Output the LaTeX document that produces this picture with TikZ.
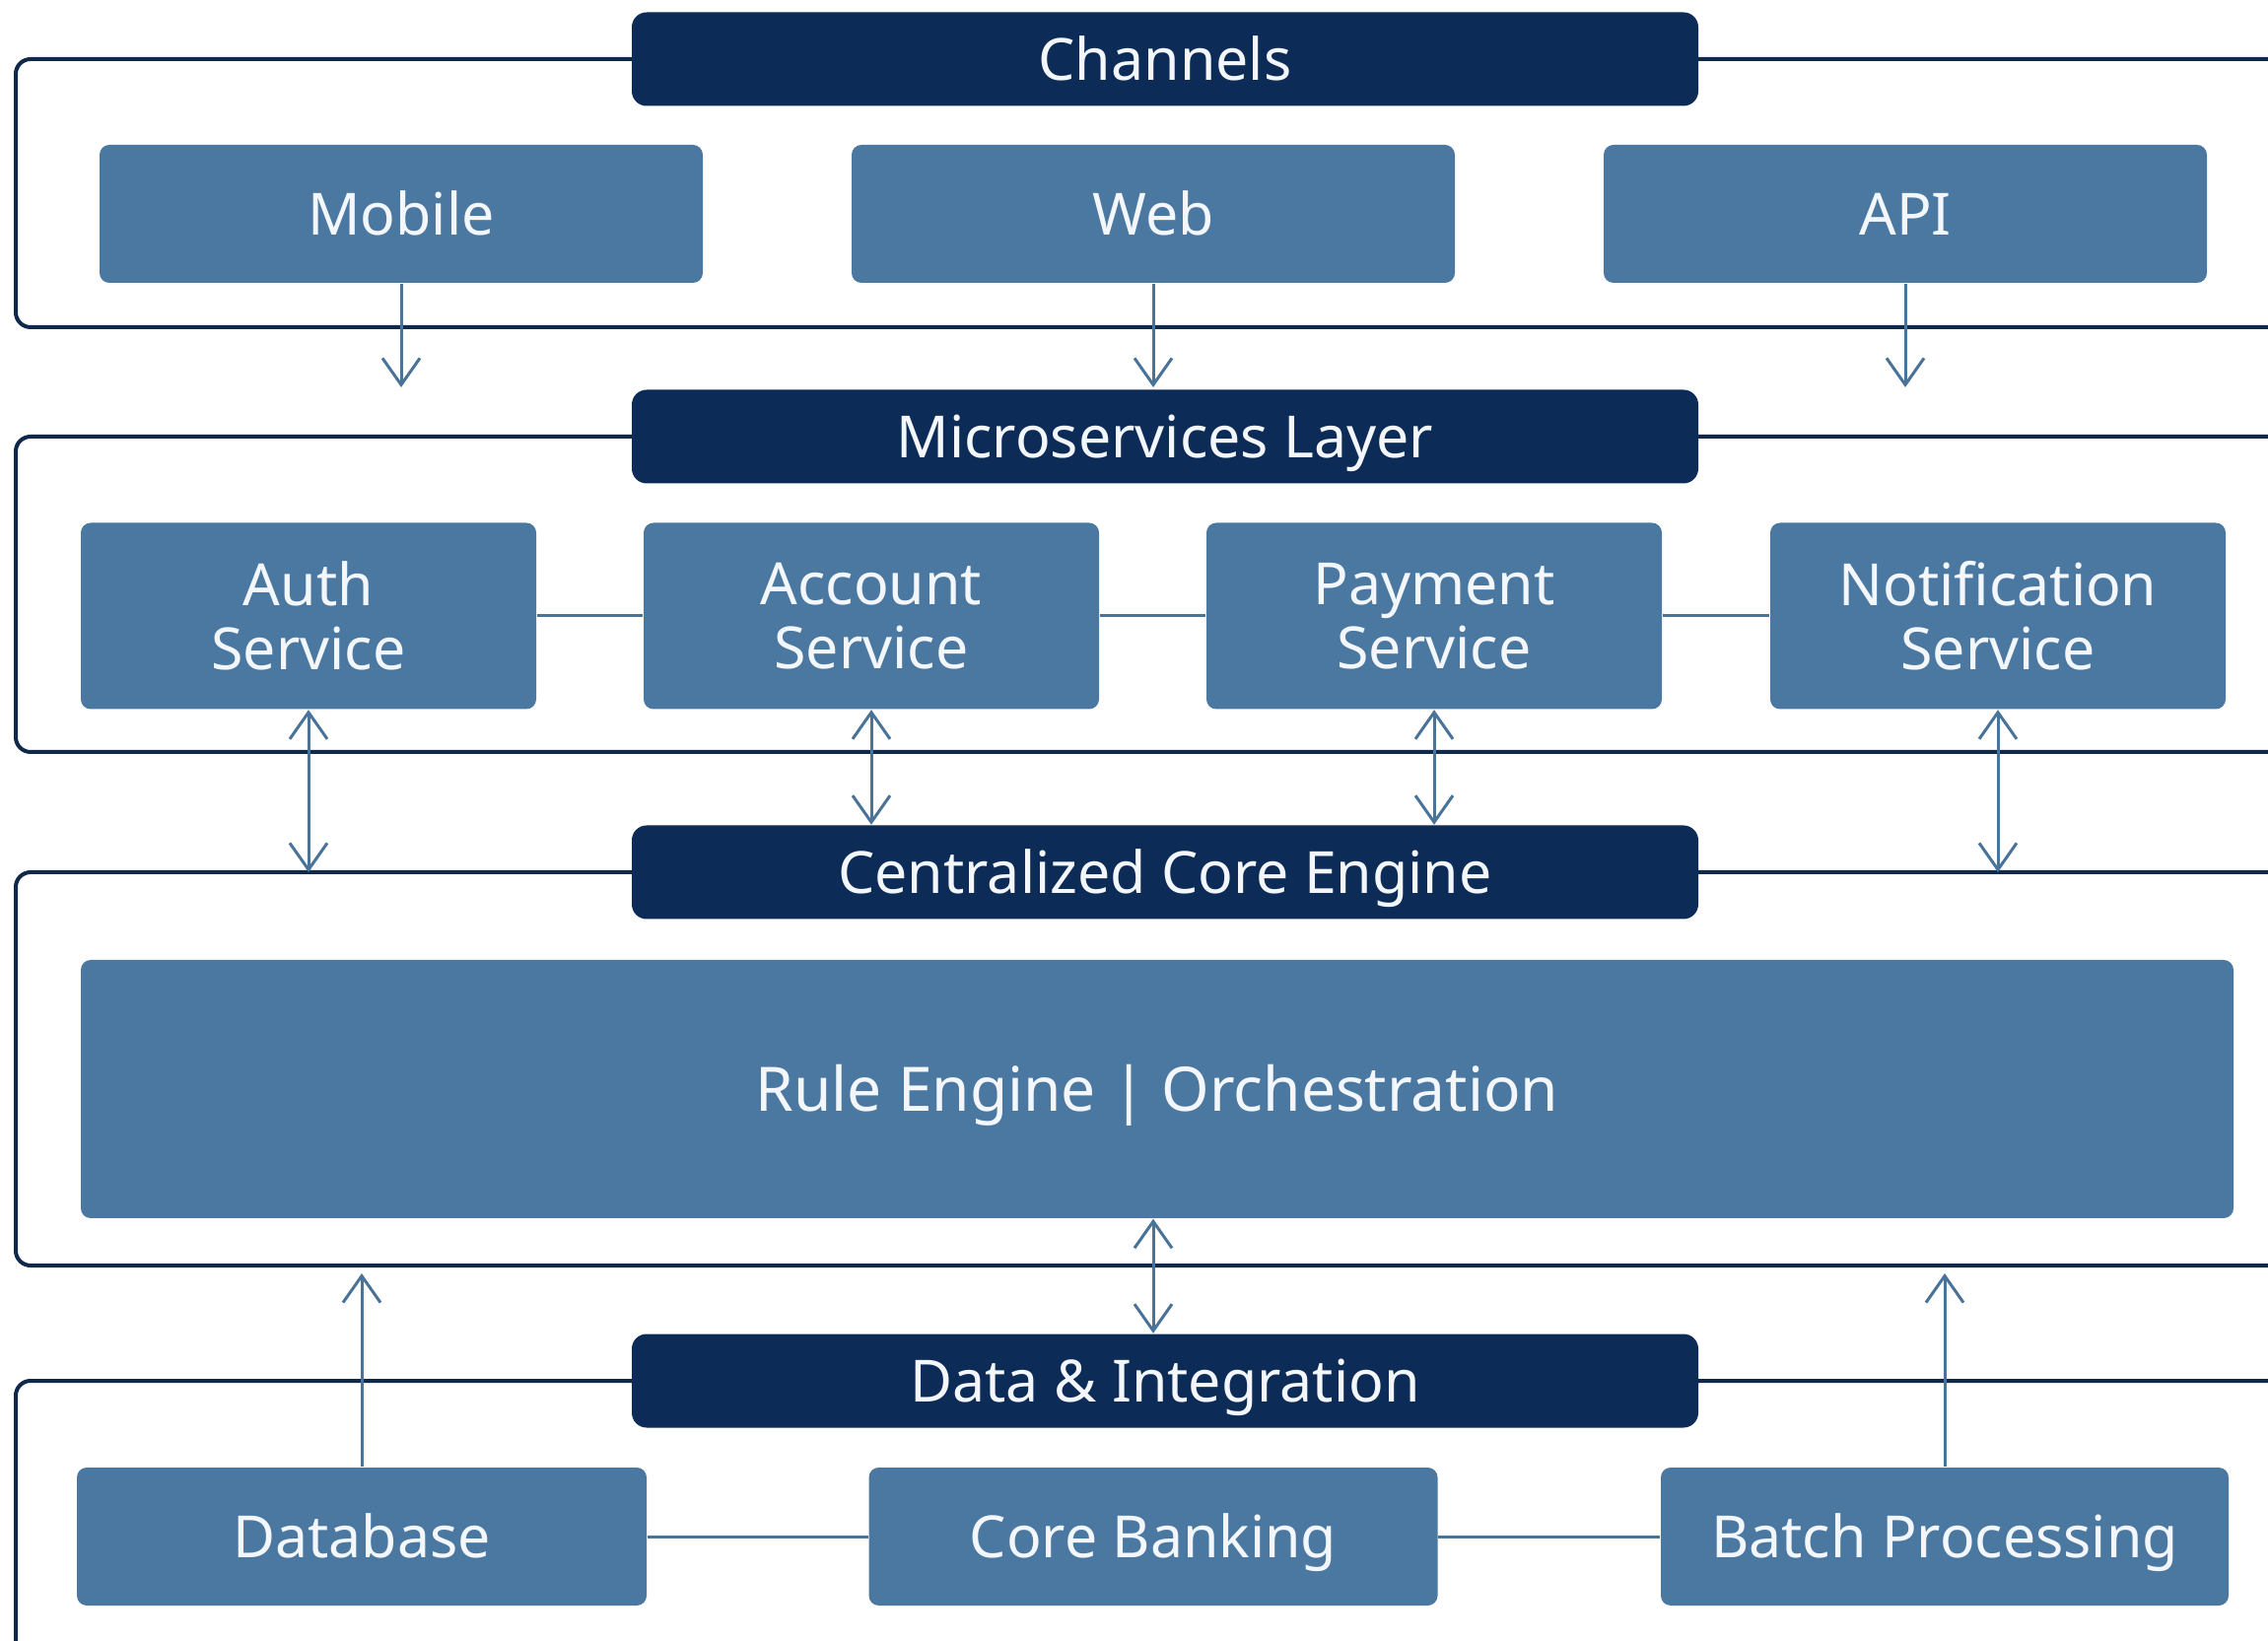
\documentclass[tikz,border=0pt]{standalone}
\usepackage{fontspec}
\setmainfont{Noto Sans}
\usetikzlibrary{arrows.meta}
\definecolor{navy}{HTML}{0C2B57}
\definecolor{steel}{HTML}{4A78A1}
\definecolor{frameline}{HTML}{10284A}
\definecolor{arrowc}{HTML}{4A7399}
\definecolor{txt}{HTML}{F3F7FB}
\begin{document}
\begin{tikzpicture}[x=0.1mm,y=-0.1mm,
  lbl/.style={text=txt, font=\fontsize{16.8}{18.5}\selectfont, align=center, inner sep=0pt},
  one/.style={text height=12pt, text depth=0pt},
  header/.style={lbl, one, fill=navy, rounded corners=1.5mm, minimum width=108.2mm, minimum height=9.5mm},
  blk/.style={lbl, fill=steel, rounded corners=1mm},
  frm/.style={draw=frameline, line width=0.4mm, rounded corners=1.5mm},
  link/.style={draw=arrowc, line width=0.3mm},
  tip/.tip={Straight Barb[length=2.7mm,width=3.8mm]},
  arr/.style={link, -tip},
  darr/.style={link, tip-tip},
]
\fill[white] (0,0) rectangle (2301,1665);
\useasboundingbox (0,0) rectangle (2301,1665);
\clip (0,0) rectangle (2301,1665);

% frames
\draw[frm] (2340,60) -- (16,60) -- (16,332) -- (2340,332);
\draw[frm] (2340,443) -- (16,443) -- (16,763) -- (2340,763);
\draw[frm] (2340,885) -- (16,885) -- (16,1284) -- (2340,1284);
\draw[frm] (2340,1401) -- (16,1401) -- (16,1720) -- (2340,1720);

% headers
\node[header] (hch) at (1182,60) {Channels};
\node[header] (hms) at (1182,443) {Microservices Layer};
\node[header] (hce) at (1182,885) {Centralized Core Engine};
\node[header] (hdi) at (1182,1401) {Data \& Integration};

% channels
\node[blk, one, minimum width=61.2mm, minimum height=14mm] (mob) at (407,217) {Mobile};
\node[blk, one, minimum width=61.2mm, minimum height=14mm] (web) at (1170,217) {Web};
\node[blk, one, minimum width=61.2mm, minimum height=14mm] (api) at (1933,217) {API};

% services
\node[blk, minimum width=46.2mm, minimum height=18.9mm] (auth) at (313,625) {Auth\\Service};
\node[blk, minimum width=46.2mm, minimum height=18.9mm] (acc) at (884,625) {Account\\Service};
\node[blk, minimum width=46.2mm, minimum height=18.9mm] (pay) at (1455,625) {Payment\\Service};
\node[blk, minimum width=46.2mm, minimum height=18.9mm] (noti) at (2027,625) {Notification\\Service};

% core
\node[blk, font=\fontsize{17.7}{20}\selectfont, text height=12.6pt, text depth=0pt, minimum width=218.4mm, minimum height=26.2mm] (rule) at (1174,1105) {Rule Engine | Orchestration};

% data
\node[blk, one, minimum width=57.8mm, minimum height=14mm] (db) at (367,1559) {Database};
\node[blk, one, minimum width=57.7mm, minimum height=14mm] (cb) at (1170,1559) {Core Banking};
\node[blk, one, minimum width=57.6mm, minimum height=14mm] (bp) at (1973,1559) {Batch Processing};

% coordinates for free ends
\coordinate (mobE) at (407,393);
\coordinate (webE) at (1170,393);
\coordinate (apiE) at (1933,393);
\coordinate (authE) at (313,885);
\coordinate (notiE) at (2027,885);
\coordinate (dbE) at (367,1292);
\coordinate (bpE) at (1973,1292);

% connectors
\draw[arr] (mob.south) -- (mobE);
\draw[arr] (web.south) -- (webE);
\draw[arr] (api.south) -- (apiE);

\draw[link] (auth.east) -- (acc.west);
\draw[link] (acc.east) -- (pay.west);
\draw[link] (pay.east) -- (noti.west);

\draw[darr] (auth.south) -- (authE);
\draw[darr] (acc.south) -- (acc.south |- hce.north);
\draw[darr] (pay.south) -- (pay.south |- hce.north);
\draw[darr] (noti.south) -- (notiE);

\draw[darr] (cb.north |- rule.south) -- (cb.north |- hdi.north);

\draw[link] (db.east) -- (cb.west);
\draw[link] (cb.east) -- (bp.west);
\draw[arr] (db.north) -- (dbE);
\draw[arr] (bp.north) -- (bpE);
\end{tikzpicture}
\end{document}
